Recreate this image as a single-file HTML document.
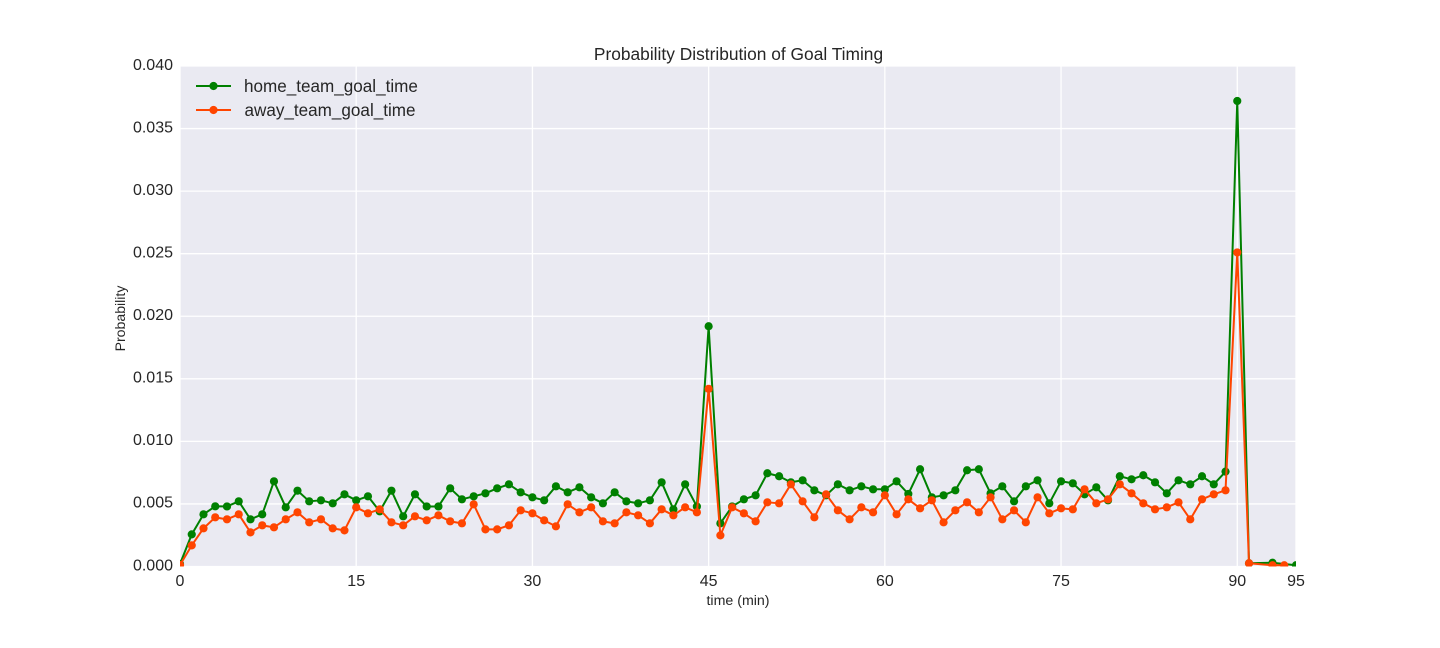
<!DOCTYPE html>
<html lang="en">
<head>
<meta charset="utf-8">
<title>Probability Distribution of Goal Timing</title>
<style>
html,body{margin:0;padding:0;background:#fff;width:1440px;height:648px;overflow:hidden}
svg{display:block;font-family:"Liberation Sans",Arial,sans-serif}
text{fill:#262626}
</style>
</head>
<body>
<svg id="chart" xmlns="http://www.w3.org/2000/svg" width="1440" height="648" viewBox="0 0 1440 648">
  <defs><clipPath id="plot-clip"><rect x="180" y="66" width="1116" height="500.5"></rect></clipPath></defs>
  <rect x="180" y="66" width="1116" height="500.5" fill="#EAEAF2"></rect>
  <g id="grid"></g>
  <g id="series" clip-path="url(#plot-clip)"></g>
  <g id="xlabels"></g>
  <g id="ylabels"></g>
  <text x="738.5" y="60" text-anchor="middle" font-size="17.35">Probability Distribution of Goal Timing</text>
  <text x="738" y="605" text-anchor="middle" font-size="14.2">time (min)</text>
  <text transform="translate(125 318.5) rotate(-90)" text-anchor="middle" font-size="14.1">Probability</text>
  <g id="legend"></g>
</svg>
<script>
const xTicks = [0, 15, 30, 45, 60, 75, 90, 95];
const yTicks = ["0.000", "0.005", "0.010", "0.015", "0.020", "0.025", "0.030", "0.035", "0.040"];

const homeMinutes = [0,1,2,3,4,5,6,7,8,9,10,11,12,13,14,15,16,17,18,19,20,21,22,23,24,25,26,27,28,29,30,31,32,33,34,35,36,37,38,39,40,41,42,43,44,45,46,47,48,49,50,51,52,53,54,55,56,57,58,59,60,61,62,63,64,65,66,67,68,69,70,71,72,73,74,75,76,77,78,79,80,81,82,83,84,85,86,87,88,89,90,91,93,95];
const homeValues = [0.0002,0.00257,0.00417,0.00481,0.0048,0.00521,0.00377,0.00417,0.00681,0.00473,0.00606,0.00521,0.00529,0.00505,0.00577,0.00529,0.00561,0.00441,0.00606,0.00401,0.00577,0.0048,0.0048,0.00625,0.00537,0.00561,0.00585,0.00625,0.00657,0.00593,0.00553,0.00529,0.00641,0.00593,0.00633,0.00553,0.00505,0.00593,0.00521,0.00505,0.00529,0.00673,0.00457,0.00657,0.0048,0.0192,0.00345,0.0048,0.00537,0.00569,0.00745,0.00721,0.00673,0.00689,0.00609,0.00569,0.00657,0.00609,0.00641,0.00617,0.00617,0.00681,0.0058,0.00777,0.00553,0.00569,0.00609,0.00769,0.00777,0.00585,0.00641,0.00521,0.00641,0.00689,0.00505,0.00681,0.00665,0.00577,0.00633,0.00529,0.00721,0.00697,0.00729,0.00673,0.00585,0.00689,0.00657,0.00721,0.00657,0.00758,0.0372,0.00026,0.0003,0.0001];

const awayMinutes = [0,1,2,3,4,5,6,7,8,9,10,11,12,13,14,15,16,17,18,19,20,21,22,23,24,25,26,27,28,29,30,31,32,33,34,35,36,37,38,39,40,41,42,43,44,45,46,47,48,49,50,51,52,53,54,55,56,57,58,59,60,61,62,63,64,65,66,67,68,69,70,71,72,73,74,75,76,77,78,79,80,81,82,83,84,85,86,87,88,89,90,91,93,94];
const awayValues = [0.00012,0.00169,0.00305,0.00393,0.00377,0.00417,0.00273,0.00329,0.00313,0.00377,0.00433,0.00353,0.00377,0.00305,0.00289,0.00473,0.00425,0.00457,0.00353,0.00329,0.00401,0.00369,0.00409,0.00361,0.00345,0.00497,0.00297,0.00297,0.00329,0.00449,0.00425,0.00369,0.00321,0.00497,0.00433,0.00473,0.00361,0.00345,0.00433,0.00409,0.00345,0.00457,0.00409,0.00473,0.00433,0.0142,0.00249,0.00473,0.00425,0.00361,0.00513,0.00505,0.00657,0.00521,0.00393,0.00577,0.00449,0.00377,0.00473,0.00433,0.00569,0.00417,0.00537,0.00465,0.00529,0.00353,0.00449,0.00513,0.00433,0.00553,0.00377,0.00449,0.00353,0.00553,0.00425,0.00465,0.00457,0.00617,0.00505,0.00537,0.00657,0.00585,0.00505,0.00457,0.00473,0.00513,0.00377,0.00537,0.00577,0.00609,0.0251,0.00026,0.0001,0.0001];

const homeLabel = "home_team_goal_time";
const awayLabel = "away_team_goal_time";

const NS = "http://www.w3.org/2000/svg";
const xScale = function (m) { return 180 + m * (1116 / 95); };
const yScale = function (v) { return 566.5 - v * (500.5 / 0.04); };

function make(tag, attrs, parent) {
  const el = document.createElementNS(NS, tag);
  for (const k in attrs) el.setAttribute(k, attrs[k]);
  parent.appendChild(el);
  return el;
}

const grid = document.getElementById("grid");
const xlabels = document.getElementById("xlabels");
const ylabels = document.getElementById("ylabels");

xTicks.forEach(function (t) {
  const line = make("line", {x1: xScale(t), x2: xScale(t), y1: 66, y2: 566.5, stroke: "#fff", "stroke-width": 1.3}, grid);
  
  
  const label = make("text", {x: xScale(t), y: 586, "text-anchor": "middle", "font-size": 16}, xlabels);
  
  
  label.textContent = t;
});

yTicks.forEach(function (t) {
  const v = parseFloat(t);
  const line = make("line", {x1: 180, x2: 1296, y1: yScale(v), y2: yScale(v), stroke: "#fff", "stroke-width": 1.3}, grid);
  
  
  const label = make("text", {x: 173, y: yScale(v) + 3.8, "text-anchor": "end", "font-size": 16}, ylabels);
  
  
  label.textContent = t;
});

const layer = document.getElementById("series");

function drawSeries(minutes, values, color, seriesName) {
  const g = make("g", {}, layer);
  
  
  const pts = minutes.map(function (m, i) { return xScale(m).toFixed(2) + "," + yScale(values[i]).toFixed(2); }).join(" ");
  const line = make("polyline", {points: pts, fill: "none", stroke: color, "stroke-width": 2, "stroke-linejoin": "round"}, g);
  
  
  minutes.forEach(function (m, i) {
    const dot = make("circle", {cx: xScale(m), cy: yScale(values[i]), r: 4.1, fill: color}, g);
    
    
  });
}

drawSeries(homeMinutes, homeValues, "#008000", "home-team-series");
drawSeries(awayMinutes, awayValues, "#FF4500", "away-team-series");

const legend = document.getElementById("legend");

function drawLegendEntry(label, color, y, textX) {
  const g = make("g", {}, legend);
  
  
  const line = make("line", {x1: 196, x2: 231, y1: y, y2: y, stroke: color, "stroke-width": 2}, g);
  
  
  const dot = make("circle", {cx: 213.5, cy: y, r: 4.1, fill: color}, g);
  
  
  const text = make("text", {x: textX, y: y + 6, "font-size": 17.1}, g);
  
  
  text.textContent = label;
}

drawLegendEntry(homeLabel, "#008000", 86, 244);
drawLegendEntry(awayLabel, "#FF4500", 110, 244.5);
</script>
</body>
</html>
